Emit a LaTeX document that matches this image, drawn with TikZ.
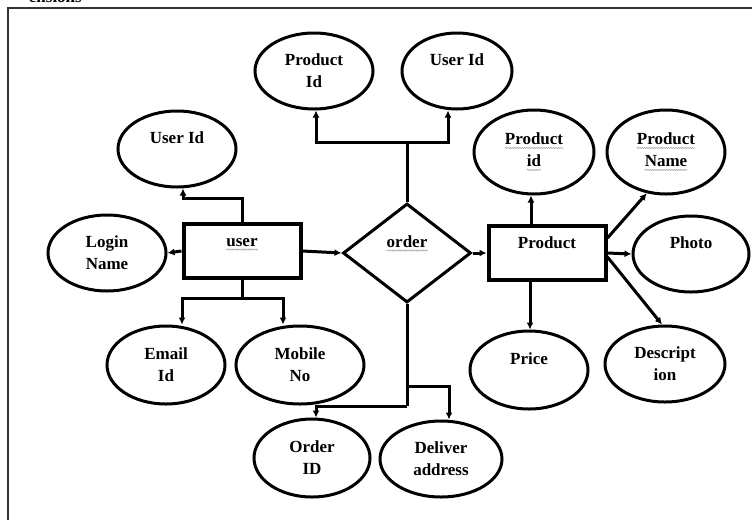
\documentclass[tikz,border=0pt]{standalone}
\usepackage{fontspec}
\setmainfont{Liberation Serif}
\usetikzlibrary{arrows.meta,positioning,shapes.geometric,decorations.pathmorphing}

% spell-check style wavy underline
\newcommand{\squig}[1]{\tikz[baseline=(w.base)]{\node[shape=rectangle, draw=none, inner sep=0pt, minimum width=0pt, minimum height=0pt, text height=, text depth=] (w) {#1};
  \draw[gray!70, line width=0.6pt, decorate, decoration={snake, amplitude=0.6pt, segment length=2.4pt}]
    ([yshift=-3pt]w.base west) -- ([yshift=-3pt]w.base east);}}

\begin{document}
\begin{tikzpicture}[x=1pt, y=-1pt, font=\bfseries\fontsize{17}{22}\selectfont,
  line/.style={-{Latex[length=7pt,width=7pt]}, line width=3pt},
  link/.style={line width=3pt},
  attr/.style={ellipse, draw, line width=3pt, inner sep=0pt, minimum width=116pt, minimum height=76pt, align=center},
  entity/.style={rectangle, draw, line width=4pt, inner sep=0pt, minimum width=117pt, minimum height=54pt, text height=7pt, text depth=16pt},
  relation/.style={diamond, draw, line width=3pt, inner sep=0pt, minimum width=128pt, minimum height=99pt, text height=6pt, text depth=17pt}]
\clip (0,0) rectangle (752,520);
\useasboundingbox (0,0) rectangle (752,520);
\node[anchor=base east, inner sep=0pt] (caption) at (82,2) {ensions};
\draw[line width=1.2pt, black!80] (8,520) -- (8,8) -- (752,8);

% entities and relation
\node[entity] (user) at (242,251) {\squig{user}};
\node[relation] (order) at (407,253) {\squig{order}};
\node[entity] (product) at (547,253) {Product};

% attributes
\node[attr, minimum width=118pt] (pid_o) at (314,71) {Product\\Id};
\node[attr, minimum width=110pt] (uid_o) at (457,71) {User Id\\\mbox{}};
\node[attr, minimum width=118pt] (uid) at (177,149) {User Id\\\mbox{}};
\node[attr, minimum width=118pt] (login) at (107,253) {Login\\Name};
\node[attr, minimum width=118pt, minimum height=78pt] (email) at (166,365) {Email\\Id};
\node[attr, minimum width=128pt, minimum height=78pt] (mobile) at (300,365) {Mobile\\No};
\node[attr, minimum height=78pt] (orderid) at (312,458) {Order\\ID};
\node[attr, minimum width=122pt] (deliver) at (441,459) {Deliver\\address};
\node[attr, minimum width=120pt, minimum height=84pt] (pid) at (534,152) {\squig{Product}\\\squig{id}};
\node[attr, minimum width=118pt, minimum height=84pt] (pname) at (666,152) {\squig{Product}\\\squig{Name}};
\node[attr] (photo) at (691,254) {Photo\\\mbox{}};
\node[attr, minimum width=118pt, minimum height=78pt] (price) at (529,370) {Price\\\mbox{}};
\node[attr, minimum width=120pt] (desc) at (665,364) {Descript\\ion};

% user
\draw[line] (user.north) -- ++(0,-24) -| ([xshift=6pt]uid.south);
\draw[line] (user.west) -- (login.east);
\draw[line] (user.east) -- (order.west);
\draw[link] (user.south) -- ++(0,18) coordinate (ub);
\draw[line] (ub) -| ([xshift=16pt]email.north);
\draw[line] (ub) -| ([xshift=-17pt]mobile.north);

% order
\draw[link] (order.north) -- ++(0,-60) coordinate (ot);
\draw[line] (ot) -| ([xshift=2pt]pid_o.south);
\draw[line] (ot) -| ([xshift=-9pt]uid_o.south);
\draw[line] (order.east) -- (product.west);
\draw[link] (order.south) -- ++(0,82) coordinate (od) -- ++(0,20) coordinate (ob);
\draw[line] (ob) -| ([xshift=4pt]orderid.north);
\draw[line] (od) -| ([xshift=8pt]deliver.north);

% product
\draw[line] ([xshift=-16pt]product.north) -- ([xshift=-3pt]pid.south);
\draw[line] ([yshift=-14pt]product.north east) -- (pname.245);
\draw[line] (product.east) -- (photo.west);
\draw[line] ([yshift=-4pt]product.east) -- ([xshift=-3pt]desc.north);
\draw[line] ([xshift=-17pt]product.south) -- ([xshift=1pt]price.north);
\end{tikzpicture}
\end{document}
